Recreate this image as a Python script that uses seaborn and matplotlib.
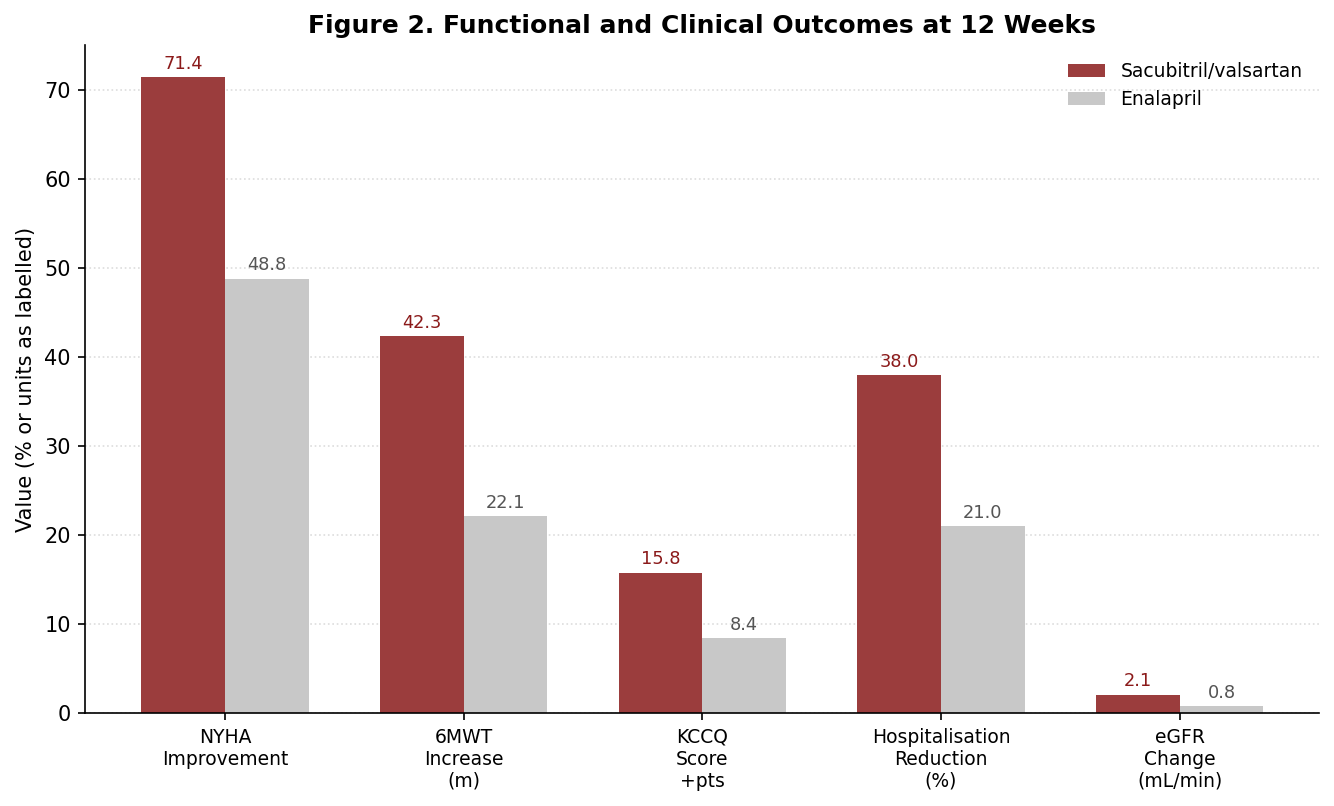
import pandas as pd
import matplotlib
matplotlib.use('Agg')
import matplotlib.pyplot as plt
import seaborn as sns

# outcomes at 12 weeks
outcomes = ['NYHA\nImprovement', '6MWT\nIncrease\n(m)', 'KCCQ\nScore\n+pts',
            'Hospitalisation\nReduction\n(%)', 'eGFR\nChange\n(mL/min)']
sacval = [71.4, 42.3, 15.8, 38.0, 2.1]
enalapril = [48.8, 22.1, 8.4, 21.0, 0.8]
groups = ['Sacubitril/valsartan', 'Enalapril']

df = pd.DataFrame({
    'Outcome': outcomes * 2,
    'Value': sacval + enalapril,
    'Group': [groups[0]] * len(outcomes) + [groups[1]] * len(outcomes),
})

plt.rcParams['font.family'] = ['DejaVu Sans']

fig, ax = plt.subplots(figsize=(1334 / 150, 806 / 150), dpi=150)

bar_cols = ['#9B3D3D', '#C8C8C8']
lab_cols = ['#8B1A1A', '#555555']

sns.barplot(data=df, x='Outcome', y='Value', hue='Group', order=outcomes,
            hue_order=groups, palette=bar_cols, width=0.7, gap=0,
            saturation=1, errorbar=None, linewidth=0, ax=ax)

# value labels above each bar
for cont, col in zip(ax.containers, lab_cols):
    ax.bar_label(cont, fmt='%.1f', padding=2, color=col, fontsize=8.5)

ax.set_xlim(-0.585, len(outcomes) - 1 + 0.585)
ax.set_ylim(0, 75)
ax.set_xlabel('')
ax.set_ylabel('Value (% or units as labelled)', fontsize=10)
ax.set_title('Figure 2. Functional and Clinical Outcomes at 12 Weeks',
             fontsize=12, fontweight='bold')
ax.tick_params(axis='x', labelsize=9)
ax.tick_params(axis='y', labelsize=10)
ax.yaxis.grid(True, linestyle=':', color='#dddddd', linewidth=0.8)
ax.set_axisbelow(True)
sns.despine(ax=ax)

ax.legend(frameon=False, loc='upper right', fontsize=9)

fig.subplots_adjust(left=0.064, right=0.989, top=0.944, bottom=0.115)
fig.savefig('out.png', dpi=150)
